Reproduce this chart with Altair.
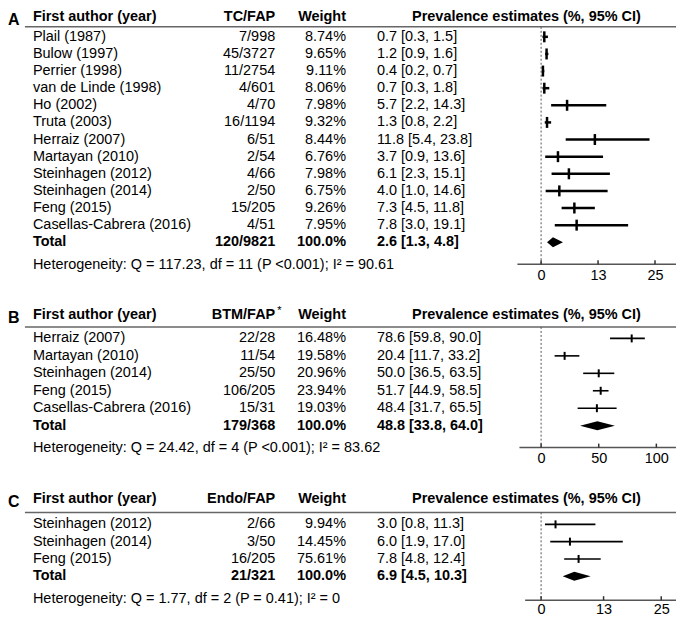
import altair as alt
import pandas as pd

FONT = "Liberation Sans"
FS = 14.5

# ---------------- data ----------------
authors_A = ["Plail (1987)", "Bulow (1997)", "Perrier (1998)", "van de Linde (1998)", "Ho (2002)",
             "Truta (2003)", "Herraiz (2007)", "Martayan (2010)", "Steinhagen (2012)",
             "Steinhagen (2014)", "Feng (2015)", "Casellas-Cabrera (2016)"]
counts_A = ["7/998", "45/3727", "11/2754", "4/601", "4/70", "16/1194", "6/51", "2/54", "4/66",
            "2/50", "15/205", "4/51"]
weights_A = ["8.74%", "9.65%", "9.11%", "8.06%", "7.98%", "9.32%", "8.44%", "6.76%", "7.98%",
             "6.75%", "9.26%", "7.95%"]
est_A = [0.7, 1.2, 0.4, 0.7, 5.7, 1.3, 11.8, 3.7, 6.1, 4.0, 7.3, 7.8]
lo_A = [0.3, 0.9, 0.2, 0.3, 2.2, 0.8, 5.4, 0.9, 2.3, 1.0, 4.5, 3.0]
hi_A = [1.5, 1.6, 0.7, 1.8, 14.3, 2.2, 23.8, 13.6, 15.1, 14.6, 11.8, 19.1]
total_A = ["120/9821", "100.0%", 2.6, 1.3, 4.8]
het_A = "Heterogeneity: Q = 117.23, df = 11 (P <0.001); I\u00b2 = 90.61"
ticks_A = [0, 12.5, 25]

authors_B = ["Herraiz (2007)", "Martayan (2010)", "Steinhagen (2014)", "Feng (2015)",
             "Casellas-Cabrera (2016)"]
counts_B = ["22/28", "11/54", "25/50", "106/205", "15/31"]
weights_B = ["16.48%", "19.58%", "20.96%", "23.94%", "19.03%"]
est_B = [78.6, 20.4, 50.0, 51.7, 48.4]
lo_B = [59.8, 11.7, 36.5, 44.9, 31.7]
hi_B = [90.0, 33.2, 63.5, 58.5, 65.5]
total_B = ["179/368", "100.0%", 48.8, 33.8, 64.0]
het_B = "Heterogeneity: Q = 24.42, df = 4 (P <0.001); I\u00b2 = 83.62"
ticks_B = [0, 50, 100]

authors_C = ["Steinhagen (2012)", "Steinhagen (2014)", "Feng (2015)"]
counts_C = ["2/66", "3/50", "16/205"]
weights_C = ["9.94%", "14.45%", "75.61%"]
est_C = [3.0, 6.0, 7.8]
lo_C = [0.8, 1.9, 4.8]
hi_C = [11.3, 17.0, 12.4]
total_C = ["21/321", "100.0%", 6.9, 4.5, 10.3]
het_C = "Heterogeneity: Q = 1.77, df = 2 (P = 0.41); I\u00b2 = 0"
ticks_C = [0, 13, 25]

W = 670


def fmt(e, l, h):
    return f"{e:.1f} [{l:.1f}, {h:.1f}]"


def panel(letter, count_hdr, star, authors, counts, weights, est, lo, hi, total, het, ticks,
          H, hdr_y, line_y, row1, step, het_y, x0, ppu, ax_lo, ax_hi, ci_w, tk_size, tk_thick,
          dia_px, lab_pad):
    n = len(authors)
    studies = pd.DataFrame({
        "author": authors, "count": counts, "weight": weights,
        "est": est, "lo": lo, "hi": hi,
        "txt": [fmt(e, l, h) for e, l, h in zip(est, lo, hi)],
        "row": list(range(1, n + 1)),
    })
    tcount, tweight, te, tl, th = total
    trow = n + 1
    tot = pd.DataFrame({"author": ["Total"], "count": [tcount], "weight": [tweight],
                        "txt": [fmt(te, tl, th)], "row": [trow]})
    d = dia_px / step
    dia = pd.DataFrame({"x": [tl, te, th], "y": [trow, trow - d, trow],
                        "y2": [trow, trow + d, trow]})
    one = pd.DataFrame({"z": [0]})
    axl = pd.DataFrame({"a": [ax_lo], "b": [ax_hi]})
    tk = pd.DataFrame({"t": ticks})

    d0 = 1 - row1 / step
    d1 = d0 + H / step
    ys = alt.Scale(domain=[d0, d1], reverse=True, nice=False, zero=False)
    xs = alt.Scale(domain=[-x0 / ppu, (W - x0) / ppu], nice=False, zero=False)
    xax = alt.Axis(values=ticks, labelExpr="round(datum.value)", ticks=False, tickSize=0,
                   domain=False, grid=False, title=None, labelFontSize=FS, labelFont=FONT,
                   labelColor="black", labelPadding=lab_pad, labelFlush=False)

    def txt(df, field, xpx, align, bold=False):
        return alt.Chart(df).mark_text(align=align, baseline="middle", font=FONT, fontSize=FS,
                                       fontWeight="bold" if bold else "normal", color="black").encode(
            x=alt.value(xpx), y=alt.Y("row:Q", scale=ys, axis=None), text=f"{field}:N")

    def lab(text, xpx, ypx, align, bold=True, size=FS):
        return alt.Chart(one).mark_text(text=text, align=align, baseline="middle", font=FONT,
                                        fontSize=size, fontWeight="bold" if bold else "normal",
                                        color="black").encode(x=alt.value(xpx), y=alt.value(ypx))

    layers = [
        lab(letter, 0, hdr_y + 3, "left", size=16),
        lab("First author (year)", 25, hdr_y, "left"),
        lab(count_hdr, 268, hdr_y, "right"),
        lab("Weight", 339, hdr_y, "right"),
        lab("Prevalence estimates (%, 95% CI)", 520, hdr_y, "center"),
        alt.Chart(one).mark_rule(color="#666", strokeWidth=1.5).encode(
            x=alt.value(17), x2=alt.value(W), y=alt.value(line_y)),
        txt(studies, "author", 25, "left"),
        txt(studies, "count", 268, "right"),
        txt(studies, "weight", 339, "right"),
        txt(studies, "txt", 370, "left"),
        txt(tot, "author", 25, "left", True),
        txt(tot, "count", 268, "right", True),
        txt(tot, "weight", 339, "right", True),
        txt(tot, "txt", 370, "left", True),
        lab(het, 25, het_y, "left", bold=False),
        alt.Chart(one).mark_rule(color="#555", strokeDash=[2, 2], strokeWidth=1).encode(
            x=alt.X("z:Q", scale=xs, axis=xax), y=alt.value(line_y), y2=alt.value(H)),
        alt.Chart(axl).mark_rule(color="#555", strokeWidth=1.5).encode(
            x=alt.X("a:Q", scale=xs, axis=xax), x2="b:Q", y=alt.value(H)),
        alt.Chart(tk).mark_rule(color="#333", strokeWidth=1.5).encode(
            x=alt.X("t:Q", scale=xs, axis=xax), y=alt.value(H - 4), y2=alt.value(H)),
        alt.Chart(studies).mark_rule(color="black", strokeWidth=ci_w).encode(
            x=alt.X("lo:Q", scale=xs, axis=xax), x2="hi:Q",
            y=alt.Y("row:Q", scale=ys, axis=None)),
        alt.Chart(studies).mark_tick(orient="vertical", size=tk_size, thickness=tk_thick,
                                     color="black", opacity=1).encode(
            x=alt.X("est:Q", scale=xs, axis=xax), y=alt.Y("row:Q", scale=ys, axis=None)),
        alt.Chart(dia).mark_area(orient="vertical", color="black").encode(
            x=alt.X("x:Q", scale=xs, axis=xax), y=alt.Y("y:Q", scale=ys, axis=None), y2="y2:Q"),
    ]
    if star:
        layers.append(lab("*", 270, hdr_y - 4, "left", bold=False, size=11))
    return alt.layer(*layers).properties(width=W, height=H)


pA = panel("A", "TC/FAP", False, authors_A, counts_A, weights_A, est_A, lo_A, hi_A, total_A, het_A,
           ticks_A, H=255, hdr_y=7, line_y=17, row1=27, step=17.17, het_y=255.5,
           x0=534.7, ppu=4.569, ax_lo=-5.2, ax_hi=29.6, ci_w=2.5, tk_size=11, tk_thick=2.5, dia_px=5,
           lab_pad=4)
pB = panel("B", "BTM/FAP", True, authors_B, counts_B, weights_B, est_B, lo_B, hi_B, total_B, het_B,
           ticks_B, H=149, hdr_y=16, line_y=28, row1=39.5, step=17.5, het_y=149,
           x0=534.7, ppu=1.156, ax_lo=-18.8, ax_hi=117, ci_w=1.6, tk_size=8, tk_thick=2, dia_px=4.5,
           lab_pad=4)
pC = panel("C", "Endo/FAP", False, authors_C, counts_C, weights_C, est_C, lo_C, hi_C, total_C, het_C,
           ticks_C, H=118, hdr_y=16.5, line_y=30, row1=42, step=17.33, het_y=117,
           x0=534.7, ppu=4.82, ax_lo=-3.32, ax_hi=28.06, ci_w=1.6, tk_size=8, tk_thick=2, dia_px=4.5,
           lab_pad=2)

chart = alt.vconcat(pA, pB, pC, spacing=35, bounds="flush").properties(
    padding={"left": 0, "top": 0, "right": 0, "bottom": 0}
).configure_view(stroke=None)

chart.save("out.html", embed_options={"renderer": "svg", "actions": False})
